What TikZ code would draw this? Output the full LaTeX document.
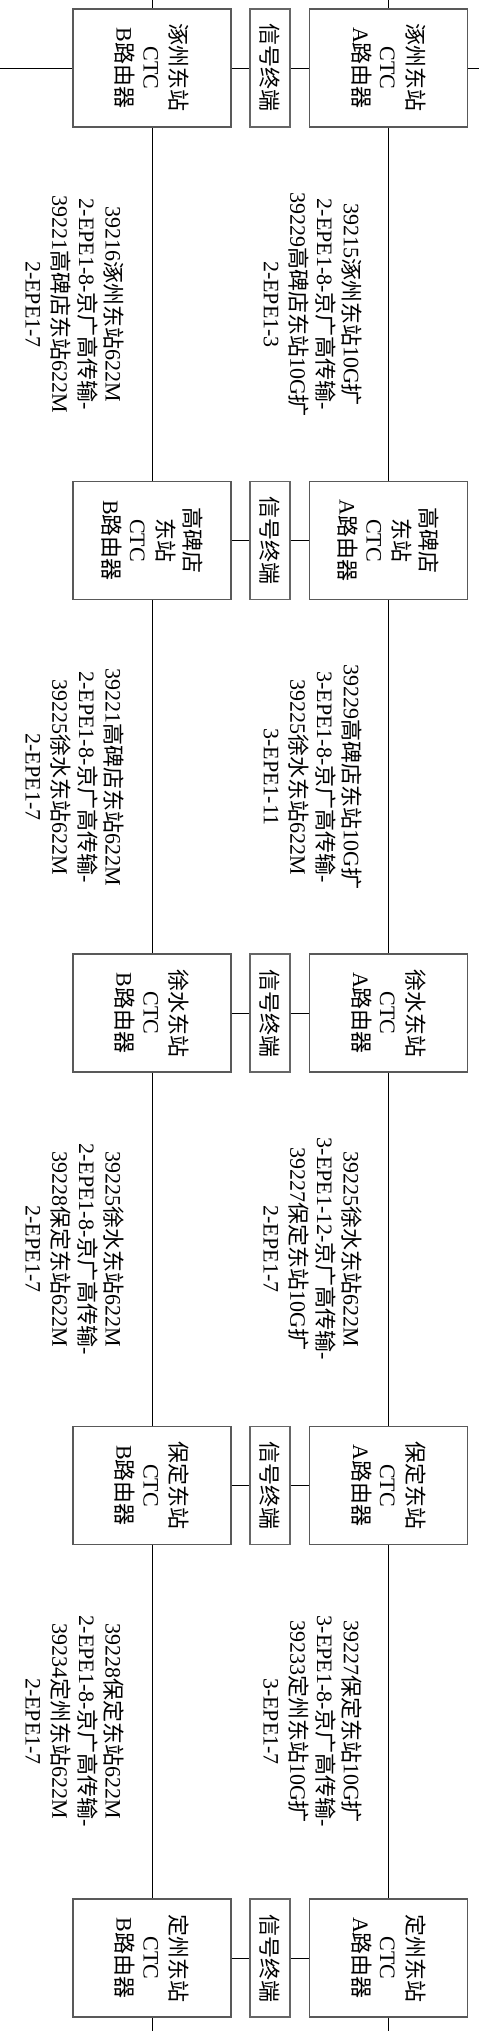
\documentclass[tikz,border=0pt]{standalone}
\usepackage{fontspec}
\setmainfont{Liberation Serif}
\newfontfamily\cjk{Noto Sans CJK SC}
\newcommand\zh[1]{{\cjk #1}}
\tikzset{
  rbox/.style={draw=black!65, line width=1.1pt, rotate=-90, minimum width=118pt, minimum height=158pt, inner sep=0pt, align=center, font=\fontsize{22}{27}\selectfont},
  sbox/.style={draw=black!60, line width=1.6pt, rotate=-90, minimum width=118pt, minimum height=40pt, inner sep=0pt, align=center, font=\fontsize{22}{27}\selectfont},
  lbl/.style={rotate=-90, inner sep=0pt, align=center, font=\fontsize{22}{26.7}\selectfont},
  conn/.style={draw=black, line width=0.9pt}
}
\begin{document}
\begin{tikzpicture}[x=1pt,y=-1pt]
\useasboundingbox (0,0) rectangle (479,2031);
% row 1
\node[rbox] (a1) at (388.5,68) {\zh{涿州东站}\\CTC\\A\zh{路由器}};
\node[sbox] (s1) at (270,68) {\zh{信号终端}};
\node[rbox] (b1) at (152,68) {\zh{涿州东站}\\CTC\\B\zh{路由器}};
% row 2
\node[rbox] (a2) at (388.5,540.5) {\zh{高碑店}\\\zh{东站}\\CTC\\A\zh{路由器}};
\node[sbox] (s2) at (270,540.5) {\zh{信号终端}};
\node[rbox] (b2) at (152,540.5) {\zh{高碑店}\\\zh{东站}\\CTC\\B\zh{路由器}};
% row 3
\node[rbox] (a3) at (388.5,1013) {\zh{徐水东站}\\CTC\\A\zh{路由器}};
\node[sbox] (s3) at (270,1013) {\zh{信号终端}};
\node[rbox] (b3) at (152,1013) {\zh{徐水东站}\\CTC\\B\zh{路由器}};
% row 4
\node[rbox] (a4) at (388.5,1485.5) {\zh{保定东站}\\CTC\\A\zh{路由器}};
\node[sbox] (s4) at (270,1485.5) {\zh{信号终端}};
\node[rbox] (b4) at (152,1485.5) {\zh{保定东站}\\CTC\\B\zh{路由器}};
% row 5
\node[rbox] (a5) at (388.5,1958) {\zh{定州东站}\\CTC\\A\zh{路由器}};
\node[sbox] (s5) at (270,1958) {\zh{信号终端}};
\node[rbox] (b5) at (152,1958) {\zh{定州东站}\\CTC\\B\zh{路由器}};
% edge coordinates
\coordinate (tA) at (388.5,0);
\coordinate (tB) at (152,0);
\coordinate (eA) at (388.5,2031);
\coordinate (eB) at (152,2031);
\coordinate (lW) at (0,68);
\coordinate (rE) at (479,68);
% connectors
\draw[conn] (lW) -- (b1);
\draw[conn] (a1) -- (rE);
\foreach \i in {1,...,5}{
  \draw[conn] (b\i) -- (s\i);
  \draw[conn] (s\i) -- (a\i);
}
\draw[conn] (tA) -- (a1);
\draw[conn] (tB) -- (b1);
\foreach \i/\j in {1/2,2/3,3/4,4/5}{
  \draw[conn] (a\i) -- (a\j);
  \draw[conn] (b\i) -- (b\j);
}
\draw[conn] (a5) -- (eA);
\draw[conn] (b5) -- (eB);
% labels
\node[lbl] (la1) at (313,304.5) {39215\zh{涿州东站}10G\zh{扩}\\2-EPE1-8-\zh{京广高传输}-\\39229\zh{高碑店东站}10G\zh{扩}\\2-EPE1-3};
\node[lbl] (lb1) at (75,304.5) {39216\zh{涿州东站}622M\\2-EPE1-8-\zh{京广高传输}-\\39221\zh{高碑店东站}622M\\2-EPE1-7};
\node[lbl] (la2) at (313,777) {39229\zh{高碑店东站}10G\zh{扩}\\3-EPE1-8-\zh{京广高传输}-\\39225\zh{徐水东站}622M\\3-EPE1-11};
\node[lbl] (lb2) at (75,777) {39221\zh{高碑店东站}622M\\2-EPE1-8-\zh{京广高传输}-\\39225\zh{徐水东站}622M\\2-EPE1-7};
\node[lbl] (la3) at (313,1249) {39225\zh{徐水东站}622M\\3-EPE1-12-\zh{京广高传输}-\\39227\zh{保定东站}10G\zh{扩}\\2-EPE1-7};
\node[lbl] (lb3) at (75,1249) {39225\zh{徐水东站}622M\\2-EPE1-8-\zh{京广高传输}-\\39228\zh{保定东站}622M\\2-EPE1-7};
\node[lbl] (la4) at (313,1721.5) {39227\zh{保定东站}10G\zh{扩}\\3-EPE1-8-\zh{京广高传输}-\\39233\zh{定州东站}10G\zh{扩}\\3-EPE1-7};
\node[lbl] (lb4) at (75,1721.5) {39228\zh{保定东站}622M\\2-EPE1-8-\zh{京广高传输}-\\39234\zh{定州东站}622M\\2-EPE1-7};
\end{tikzpicture}
\end{document}
